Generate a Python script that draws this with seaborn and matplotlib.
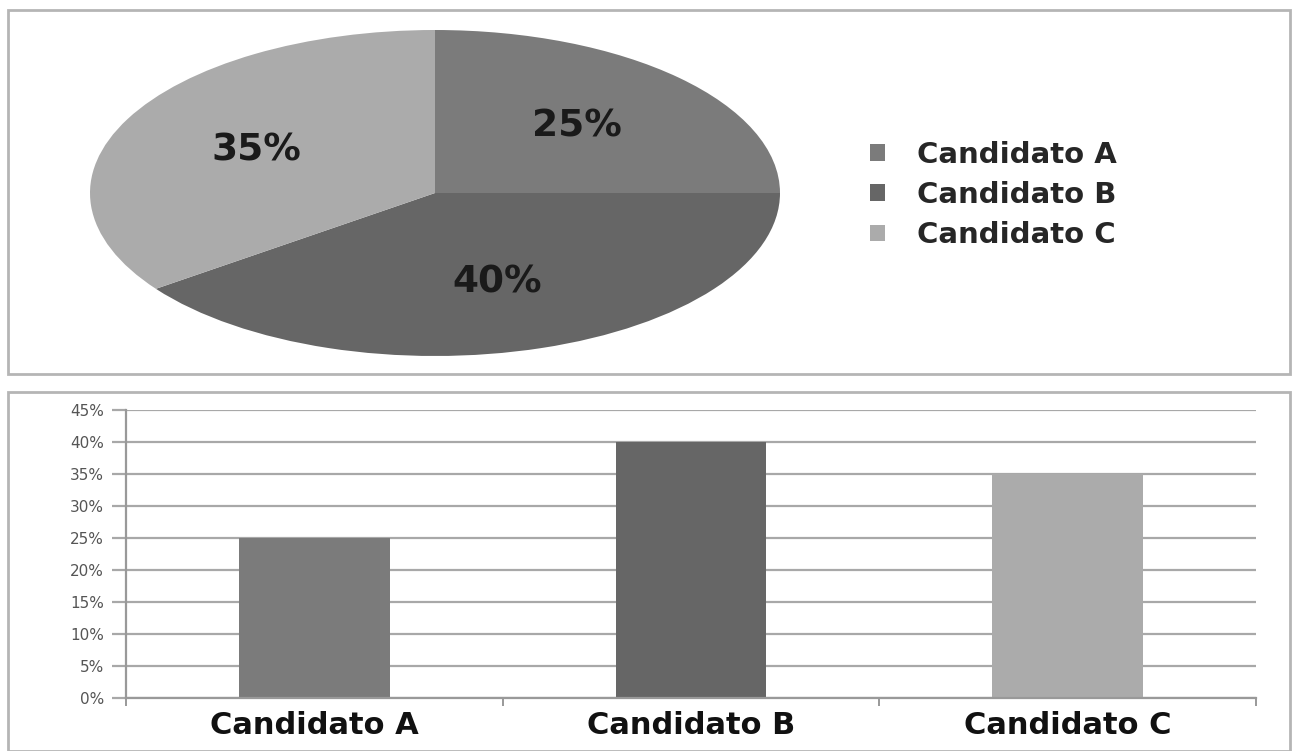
import matplotlib
matplotlib.use("Agg")
import matplotlib.pyplot as plt
from matplotlib.patches import Rectangle, Patch
from matplotlib.ticker import FuncFormatter, FixedLocator
import seaborn as sns
import pandas as pd

# data
categories = ["Candidato A", "Candidato B", "Candidato C"]
shares = [25, 40, 35]
colors = ["#7b7b7b", "#666666", "#ababab"]
yticks = [0, 5, 10, 15, 20, 25, 30, 35, 40, 45]

df = pd.DataFrame({"candidato": categories, "pct": shares})

sns.set_style("white")
plt.rcParams["font.family"] = ["DejaVu Sans"]

fig = plt.figure(figsize=(12.92, 7.51), dpi=100)

# panel frames
W, H = 1292, 751
def frame(x0, y0, x1, y1):
    fig.patches.append(Rectangle((x0 / W, 1 - y1 / H), (x1 - x0) / W, (y1 - y0) / H,
                                 transform=fig.transFigure, fill=False,
                                 edgecolor="#b5b5b5", linewidth=2.0))
frame(8, 10, 1290, 374)
frame(8, 392, 1290, 751)

# top: pie
ax1 = fig.add_axes([90 / W, 1 - 356 / H, 690 / W, 326 / H])
wedges, texts, autotexts = ax1.pie(
    df["pct"], colors=colors, startangle=90, counterclock=False,
    autopct=lambda p: f"{p:.0f}%", pctdistance=0.58,
    wedgeprops=dict(linewidth=0),
    textprops=dict(fontsize=27, fontweight="bold", color="#1a1a1a"))
ax1.set_aspect("auto")
ax1.set_xlim(-1.0, 1.0)
ax1.set_ylim(-1.0, 1.0)

fig.legend(handles=[Patch(facecolor=c, edgecolor="none", label=l) for c, l in zip(colors, categories)],
           loc="center left", bbox_to_anchor=(870 / W, 1 - 195 / H), frameon=False,
           prop=dict(size=21, weight="bold"), handlelength=0.5, handleheight=0.5,
           handletextpad=1.1, labelspacing=0.42, borderaxespad=0, borderpad=0)

# bottom: bars
ax2 = fig.add_axes([126 / W, 1 - 698 / H, 1130 / W, 288 / H])
sns.barplot(data=df, x="candidato", y="pct", hue="candidato", palette=colors,
            width=0.4, legend=False, ax=ax2, saturation=1, linewidth=0)
ax2.set_ylim(0, 45)
ax2.set_xlim(-0.5, 2.5)
ax2.yaxis.set_major_locator(FixedLocator(yticks))
ax2.yaxis.set_major_formatter(FuncFormatter(lambda v, _: f"{v:.0f}%"))
ax2.grid(axis="y", color="#a8a8a8", linewidth=1.6)
ax2.set_axisbelow(True)
for s in ["top", "right"]:
    ax2.spines[s].set_visible(False)
for s in ["left", "bottom"]:
    ax2.spines[s].set_color("#999999")
    ax2.spines[s].set_linewidth(1.6)
ax2.tick_params(axis="y", left=True, length=10, width=1.6, color="#a8a8a8",
                labelsize=11, labelcolor="#555555", pad=6)
ax2.xaxis.set_minor_locator(FixedLocator([-0.5, 0.5, 1.5, 2.5]))
ax2.tick_params(axis="x", which="minor", bottom=True, length=6, width=1.4, color="#999999")
ax2.tick_params(axis="x", which="major", bottom=False, labelsize=22, pad=6)
for t in ax2.get_xticklabels():
    t.set_fontweight("bold")
    t.set_color("#111111")
ax2.set_xlabel("")
ax2.set_ylabel("")

fig.savefig("out.png", dpi=100)
